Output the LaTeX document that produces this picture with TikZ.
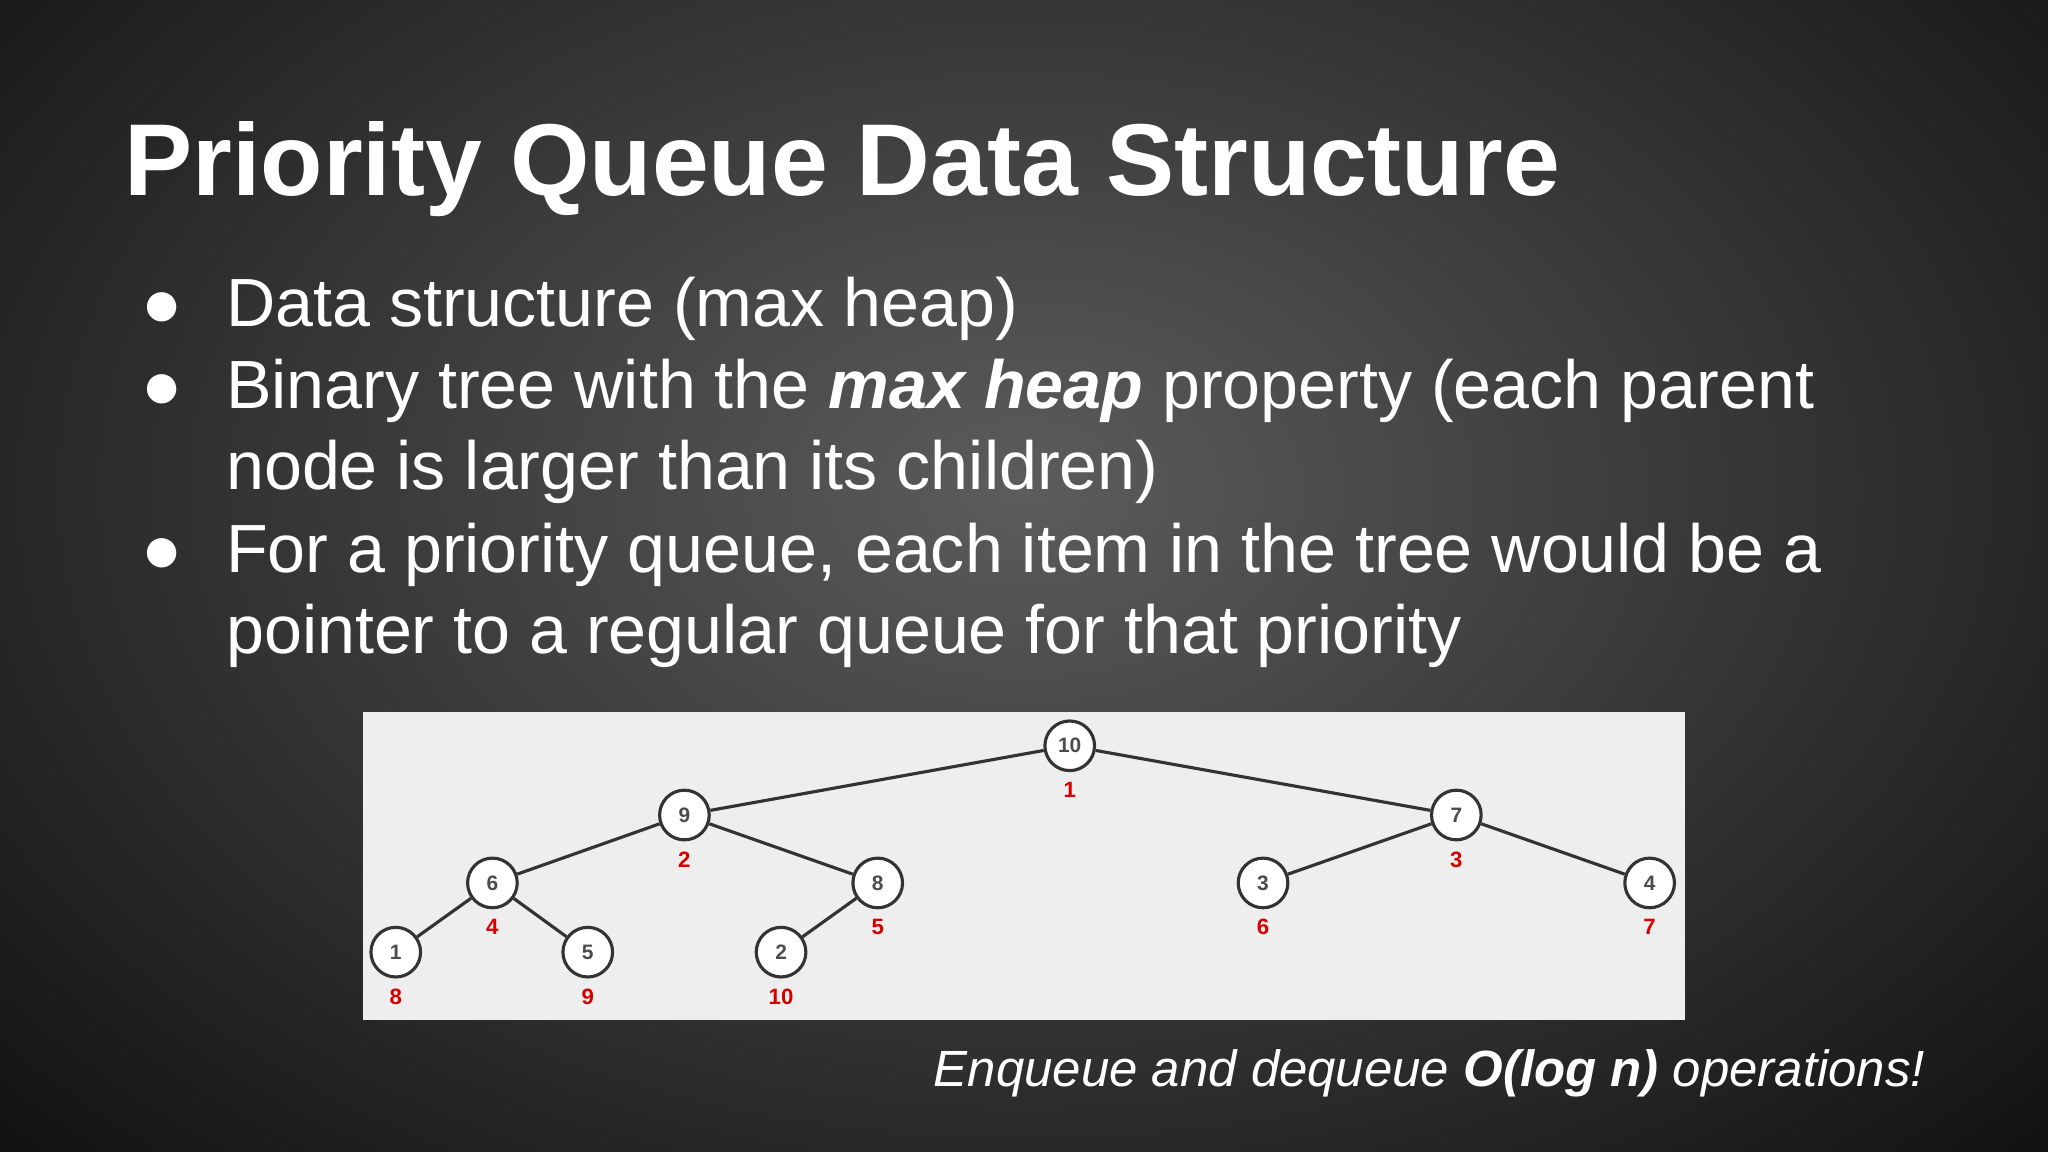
\documentclass[tikz,border=0pt]{standalone}
\usepackage{fontspec}
\setmainfont{Liberation Sans}
\begin{document}
\begin{tikzpicture}[x=1pt,y=-1pt,
  hn/.style={circle,draw=black!80,line width=2.4pt,fill=white,minimum size=38pt,inner sep=0pt,font=\fontsize{16}{16}\selectfont\bfseries,text=black!70},
  rl/.style={text=red!85!black,font=\fontsize{17}{17}\selectfont\bfseries,inner sep=0pt},
  ed/.style={draw=black!80,line width=2.4pt},
  bt/.style={anchor=base west,text=white,inner sep=0pt,font=\fontsize{52.2}{52}\selectfont}]
\useasboundingbox (0,0) rectangle (1568,882);
\shade[inner color={rgb,255:red,92;green,92;blue,92},outer color={rgb,255:red,18;green,18;blue,18}] (-300,-350) rectangle (1868,1100);
\node[anchor=base west,text=white,inner sep=0pt,font=\fontsize{78.2}{78}\selectfont\bfseries] (title) at (95,150) {Priority Queue Data Structure};
\node[bt] (d1) at (108,250) {●};
\node[bt] (d2) at (108,313) {●};
\node[bt] (d3) at (108,438) {●};
\node[bt] (b1) at (173,250) {Data structure (max heap)};
\node[bt] (b2) at (173,313) {Binary tree with the \textbf{\textit{max heap}} property (each parent};
\node[bt] (b2b) at (173,375) {node is larger than its children)};
\node[bt] (b3) at (173,438) {For a priority queue, each item in the tree would be a};
\node[bt] (b3b) at (173,500) {pointer to a regular queue for that priority};
\fill[fill={rgb,255:red,238;green,238;blue,238}] (278,545) rectangle (1290,781);
\node[hn] (n10) at (819,571) {10};
\node[hn] (n9) at (524,624) {9};
\node[hn] (n7) at (1115,624) {7};
\node[hn] (n6) at (377,676) {6};
\node[hn] (n8) at (672,676) {8};
\node[hn] (n3) at (967,676) {3};
\node[hn] (n4) at (1263,676) {4};
\node[hn] (n1) at (303,729) {1};
\node[hn] (n5) at (450,729) {5};
\node[hn] (n2) at (598,729) {2};
\foreach \a/\b in {n10/n9,n10/n7,n9/n6,n9/n8,n7/n3,n7/n4,n6/n1,n6/n5,n8/n2}
  \draw[ed] (\a) -- (\b);
\foreach \n/\t in {n10/1,n9/2,n7/3,n6/4,n8/5,n3/6,n4/7,n1/8,n5/9,n2/10}
  \node[rl] at ([yshift=-34pt]\n.center) {\t};
\node[anchor=base east,text=white,inner sep=0pt,font=\fontsize{39}{39}\selectfont\itshape] (note) at (1474,832) {Enqueue and dequeue \textbf{O(log n)} operations!};
\end{tikzpicture}
\end{document}
